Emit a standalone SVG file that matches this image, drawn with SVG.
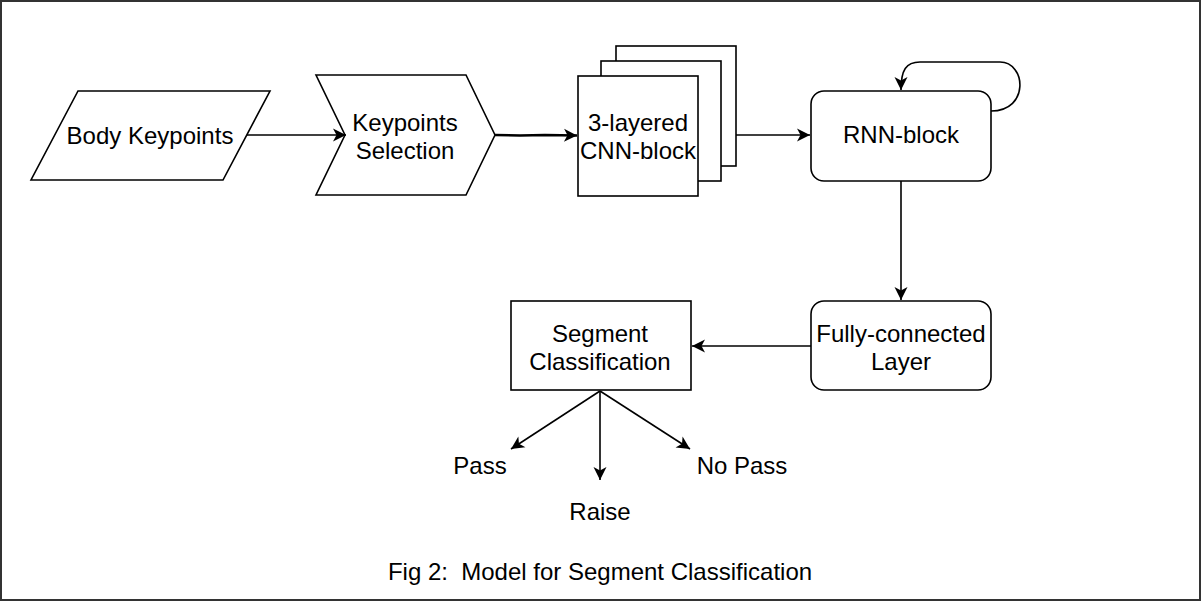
<svg xmlns="http://www.w3.org/2000/svg" width="1202" height="602" viewBox="0 0 1202 602">
<style>
.s{fill:#fff;stroke:#000;stroke-width:1.6}
.t{font-family:"Liberation Sans",Arial,sans-serif;font-size:24px;fill:#000;text-anchor:middle;white-space:pre}
.c{fill:none;stroke:#000;stroke-width:1.6}
</style>
<defs>
<marker id="ah" markerUnits="userSpaceOnUse" markerWidth="16" markerHeight="16" viewBox="-14 -8 16 16" refX="0" refY="0" orient="auto">
<path d="M0,0 L-13,-6.5 L-9.5,0 L-13,6.5 Z" fill="#000"/>
</marker>
</defs>
<rect x="1" y="1" width="1199" height="599" fill="#fff" stroke="#333" stroke-width="2"/>
<g id="body-keypoints">
<polygon class="s" points="78,91 270,91 223,180 31,180"/>
<text class="t" x="150" y="143.5">Body Keypoints</text>
</g>
<g id="keypoints-selection">
<polygon class="s" points="316,75 466,75 495,135 466,195 316,195 345,135"/>
<text class="t" x="405" y="130.5">Keypoints</text>
<text class="t" x="405" y="158.5">Selection</text>
</g>
<g id="cnn-block">
<rect class="s" x="616" y="46" width="120" height="120"/>
<rect class="s" x="601" y="61" width="120" height="120"/>
<rect class="s" x="578" y="76" width="120" height="120"/>
<text class="t" x="638" y="130.5">3-layered</text>
<text class="t" x="638" y="158.5">CNN-block</text>
</g>
<g id="rnn-block">
<rect class="s" x="811" y="91" width="180" height="90" rx="13"/>
<text class="t" x="901" y="143">RNN-block</text>
</g>
<g id="fully-connected">
<rect class="s" x="811" y="301" width="180" height="89" rx="13"/>
<text class="t" x="901" y="341.5">Fully-connected</text>
<text class="t" x="901" y="369.5">Layer</text>
</g>
<g id="segment-classification">
<rect class="s" x="511" y="301" width="180" height="89"/>
<text class="t" x="600" y="341.5">Segment</text>
<text class="t" x="600" y="369.5">Classification</text>
</g>
<g id="outputs">
<text class="t" x="480" y="474">Pass</text>
<text class="t" x="600" y="519.5">Raise</text>
<text class="t" x="742" y="474">No Pass</text>
</g>
<g id="connectors">
<line class="c" x1="247" y1="135" x2="346" y2="135" marker-end="url(#ah)"/>
<path d="M495,135 L520,135.5 L545,135 L577,135.5" fill="none" stroke="#000" stroke-width="2.6" marker-end="url(#ah)"/>
<line class="c" x1="736" y1="135" x2="810" y2="135" marker-end="url(#ah)"/>
<path class="c" d="M991,111 C1030,111 1026,62 1000,62 L920,62 C906,62 901,70 901,90" marker-end="url(#ah)"/>
<line class="c" x1="901" y1="181" x2="901" y2="300" marker-end="url(#ah)"/>
<line class="c" x1="811" y1="346" x2="692" y2="346" marker-end="url(#ah)"/>
<line class="c" x1="600" y1="391" x2="511" y2="449" marker-end="url(#ah)"/>
<line class="c" x1="600" y1="391" x2="600" y2="480" marker-end="url(#ah)"/>
<line class="c" x1="600" y1="391" x2="690" y2="449" marker-end="url(#ah)"/>
</g>
<text class="t" x="600" y="579.5">Fig 2:  Model for Segment Classification</text>
</svg>
